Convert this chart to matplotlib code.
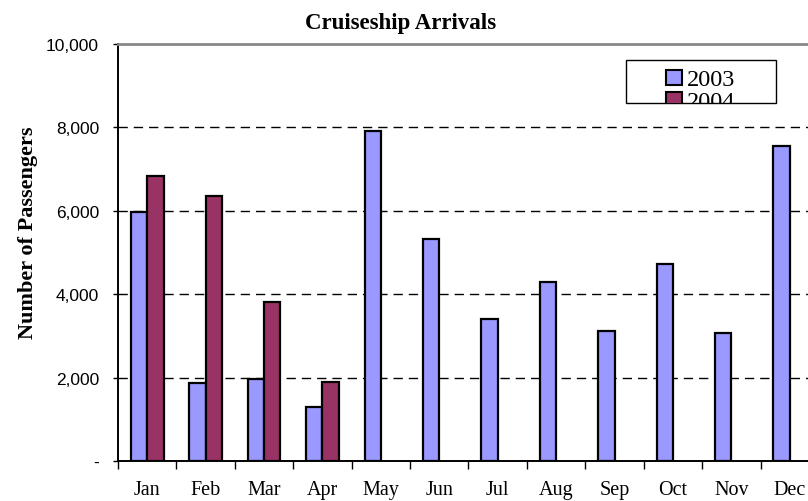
import matplotlib
matplotlib.use("Agg")
import matplotlib.pyplot as plt
from matplotlib.patches import Rectangle
from matplotlib.ticker import FuncFormatter, FixedLocator
import numpy as np

months = ["Jan", "Feb", "Mar", "Apr", "May", "Jun", "Jul", "Aug", "Sep", "Oct", "Nov", "Dec"]
arrivals_2003 = [5960, 1860, 1960, 1290, 7920, 5320, 3400, 4300, 3120, 4730, 3080, 7560]
arrivals_2004 = [6830, 6360, 3820, 1900]
series_names = ["2003", "2004"]
title = "Cruiseship Arrivals"
ylabel = "Number of Passengers"

c2003 = "#9999FF"
c2004 = "#993366"

W, H = 808, 502
fig = plt.figure(figsize=(W / 100, H / 100), dpi=100)
ax_left, ax_right = 118, 819
ax_top, ax_bottom = 45, 462
ax = fig.add_axes([ax_left / W, 1 - ax_bottom / H, (ax_right - ax_left) / W, (ax_bottom - ax_top) / H])

x = np.arange(len(months))
bw = 0.28
ax.bar(x[:len(arrivals_2003)] - bw / 2, arrivals_2003, width=bw, color=c2003,
       edgecolor="black", linewidth=1.6, zorder=3)
x4 = np.arange(len(arrivals_2004))
ax.bar(x4 + bw / 2, arrivals_2004, width=bw, color=c2004,
       edgecolor="black", linewidth=1.6, zorder=3)

ax.set_xlim(-0.5, len(months) - 0.5)
ax.set_ylim(0, 10000)

ax.set_yticks(np.arange(0, 10001, 2000))
ax.yaxis.set_major_formatter(FuncFormatter(lambda v, p: "-" if v == 0 else f"{int(v):,}"))
for t in ax.get_yticklabels():
    t.set_fontfamily("Liberation Sans")
    t.set_fontsize(12.5)
ax.tick_params(axis="y", direction="out", length=3.6, width=1, pad=10, colors="black")

ax.set_xticks(x)
ax.set_xticklabels(months, fontfamily="Liberation Serif", fontsize=14.5)
ax.tick_params(axis="x", which="major", length=0, pad=14)
ax.xaxis.set_minor_locator(FixedLocator(np.arange(-0.5, len(months), 1.0)))
ax.tick_params(axis="x", which="minor", direction="out", length=5.5, width=1)

for v in [2000, 4000, 6000, 8000]:
    ax.axhline(v, color="black", linestyle=(0, (6.7, 4.3)), linewidth=1.0, zorder=1)

ax.spines["right"].set_visible(False)
ax.spines["top"].set_color("#888888")
ax.spines["top"].set_linewidth(2)
ax.spines["left"].set_linewidth(1.4)
ax.spines["bottom"].set_linewidth(1.4)

fig.text(401 / W, 1 - 23 / H, title, ha="center", va="center",
         fontfamily="Liberation Serif", fontweight="bold", fontsize=16.5)
fig.text(28 / W, 1 - 233 / H, ylabel, ha="center", va="center", rotation=90,
         fontfamily="Liberation Serif", fontweight="bold", fontsize=16)

# legend box (clipped, as in the reference)
lx0, ly0, lx1, ly1 = 626, 61, 776, 104
box = Rectangle((lx0 / W, 1 - ly1 / H), (lx1 - lx0) / W, (ly1 - ly0) / H,
                transform=fig.transFigure, facecolor="white", edgecolor="black",
                linewidth=1, zorder=10)
fig.add_artist(box)
clip = Rectangle((lx0 / W, 1 - ly1 / H), (lx1 - lx0) / W, (ly1 - ly0) / H,
                 transform=fig.transFigure, facecolor="none", edgecolor="none")
fig.add_artist(clip)
colors = [c2003, c2004]
for i, (name, c) in enumerate(zip(series_names, colors)):
    yc = 78.5 + i * 21.5
    sq = Rectangle((666 / W, 1 - (yc + 7.5) / H), 16 / W, 15 / H, transform=fig.transFigure,
                   facecolor=c, edgecolor="black", linewidth=1.5, zorder=11)
    fig.add_artist(sq)
    sq.set_clip_path(clip)
    t = fig.text(687 / W, 1 - yc / H, name, ha="left", va="center_baseline",
                 fontfamily="Liberation Serif", fontsize=17.5, zorder=11)
    t.set_clip_path(clip)

fig.savefig("out.png", dpi=100)
